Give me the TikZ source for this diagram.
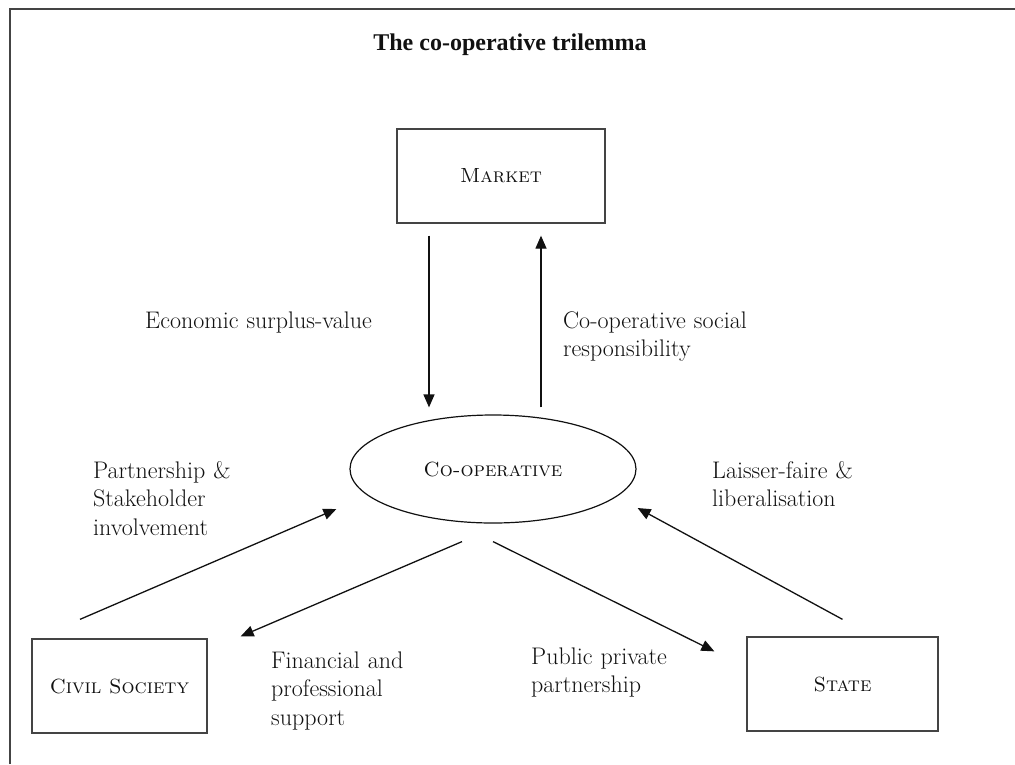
\documentclass[tikz,border=0pt]{standalone}
\usepackage{fontspec}
\newfontfamily\titlefont{Liberation Serif}
\usetikzlibrary{arrows.meta,shapes.geometric}
\definecolor{ink}{HTML}{111111}
\definecolor{framec}{HTML}{444444}
\begin{document}
\begin{tikzpicture}[x=1pt,y=-1pt,
  box/.style={draw=framec,line width=1.3pt,rectangle,inner sep=0pt,
    font=\fontsize{20.5}{24}\selectfont\scshape,text=ink},
  oval/.style={draw=ink,line width=1.2pt,ellipse,inner sep=0pt,
    font=\fontsize{20.5}{24}\selectfont\scshape,text=ink},
  lab/.style={inner sep=0pt,anchor=base west,text width=320pt,align=left,
    font=\fontsize{24}{28.5}\selectfont,text=ink},
  arr/.style={draw=ink,line width=1.3pt,-{Triangle[length=13pt,width=11pt]}}]
\useasboundingbox (0,0) rectangle (1015,764);
\fill[white] (0,0) rectangle (1015,764);
% frame
\draw[framec,line width=1.6pt] (10,764) -- (10,9) -- (1015,9);
% title
\node[inner sep=0pt,font=\titlefont\bfseries\fontsize{24}{28}\selectfont,text=ink] (title) at (510,45) {The co-operative trilemma};
% nodes
\node[box,minimum width=208pt,minimum height=94pt] (market) at (501,176) {Market};
\node[oval,minimum width=286pt,minimum height=108pt] (coop) at (493,469) {Co-operative};
\node[box,minimum width=175pt,minimum height=94pt] (civil) at (119.5,686) {Civil Society};
\node[box,minimum width=191pt,minimum height=94pt] (state) at (842.5,684) {State};
% connectors
\draw[arr] ([xshift=-72pt,yshift=-12pt]market.south) -- ([xshift=-64pt,yshift=7pt]coop.north);
\draw[arr] ([xshift=48pt,yshift=7pt]coop.north) -- ([xshift=40pt,yshift=-12pt]market.south);
\draw[arr] ([xshift=-39.5pt,yshift=19pt]civil.north) -- ([xshift=-13pt,yshift=-40pt]coop.west);
\draw[arr] ([xshift=-31pt,yshift=-18pt]coop.south) -- ([xshift=33pt,yshift=2pt]civil.north east);
\draw[arr] ([yshift=-18pt]coop.south) -- ([xshift=-32pt,yshift=-15pt]state.north west);
\draw[arr] ([yshift=17pt]state.north) -- ([xshift=1pt,yshift=-39pt]coop.east);
% labels
\node[lab] (l1) at (145,328) {Economic surplus-value};
\node[lab] (l2) at (563,328) {Co-operative social\\responsibility};
\node[lab] (l3) at (93,478) {Partnership \&\\Stakeholder\\involvement};
\node[lab] (l4) at (712,478) {Laisser-faire \&\\liberalisation};
\node[lab] (l5) at (271,668) {Financial and\\professional\\support};
\node[lab] (l6) at (531,664) {Public private\\partnership};
\end{tikzpicture}
\end{document}
